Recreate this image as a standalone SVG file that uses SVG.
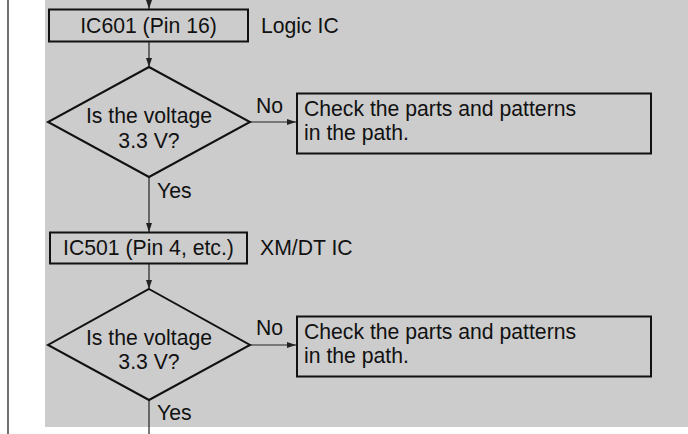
<svg xmlns="http://www.w3.org/2000/svg" width="688" height="434" viewBox="0 0 688 434">
<style>
  text { font-family: "Liberation Sans", Arial, sans-serif; font-size: 21.2px; fill: #111; }
  .box { fill: none; stroke: #111; stroke-width: 2; }
  .dia { fill: none; stroke: #111; stroke-width: 2; stroke-linejoin: miter; }
  .ln { fill: none; stroke: #222; stroke-width: 1.2; }
  .mid { text-anchor: middle; }
</style>
<defs>
  <marker id="ah" markerWidth="9" markerHeight="6" refX="9" refY="3" orient="auto" markerUnits="userSpaceOnUse">
    <path d="M0,0 L9,3 L0,6 Z" fill="#222"/>
  </marker>
</defs>
<rect x="0" y="0" width="688" height="434" fill="#ffffff"/>
<rect x="45" y="0" width="643" height="427" fill="#cccccc"/>
<line x1="8" y1="0" x2="8" y2="434" stroke="#111" stroke-width="1.2"/>

<g id="connectors">
  <line class="ln" x1="149" y1="0" x2="149" y2="9" marker-end="url(#ah)"/>
  <line class="ln" x1="149" y1="42" x2="149" y2="67" marker-end="url(#ah)"/>
  <line class="ln" x1="250" y1="122" x2="296" y2="122" marker-end="url(#ah)"/>
  <line class="ln" x1="149" y1="177" x2="149" y2="232" marker-end="url(#ah)"/>
  <line class="ln" x1="149" y1="263" x2="149" y2="289" marker-end="url(#ah)"/>
  <line class="ln" x1="250" y1="345" x2="296" y2="345" marker-end="url(#ah)"/>
  <line class="ln" x1="149" y1="400" x2="149" y2="434"/>
  <text x="256" y="113">No</text>
  <text x="157" y="198">Yes</text>
  <text x="256" y="335">No</text>
  <text x="157" y="420">Yes</text>
</g>

<g id="ic601">
  <rect class="box" x="49" y="9.5" width="199" height="32"/>
  <text class="mid" x="148.5" y="33">IC601 (Pin 16)</text>
  <text x="261" y="33">Logic IC</text>
</g>

<g id="decision1">
  <polygon class="dia" points="149,67 250,122 149,177 48,122"/>
  <text class="mid" x="149" y="123">Is the voltage</text>
  <text class="mid" x="149" y="148">3.3 V?</text>
</g>

<g id="check1">
  <rect class="box" x="297" y="93.5" width="354" height="60"/>
  <text x="304" y="116">Check the parts and patterns</text>
  <text x="304" y="140">in the path.</text>
</g>

<g id="ic501">
  <rect class="box" x="50" y="232.5" width="197" height="31"/>
  <text class="mid" x="148.5" y="255">IC501 (Pin 4, etc.)</text>
  <text x="260" y="255">XM/DT IC</text>
</g>

<g id="decision2">
  <polygon class="dia" points="149,289 250,345 149,400 48,345"/>
  <text class="mid" x="149" y="345">Is the voltage</text>
  <text class="mid" x="149" y="369">3.3 V?</text>
</g>

<g id="check2">
  <rect class="box" x="297" y="316.5" width="354" height="60"/>
  <text x="304" y="339">Check the parts and patterns</text>
  <text x="304" y="363">in the path.</text>
</g>
</svg>
